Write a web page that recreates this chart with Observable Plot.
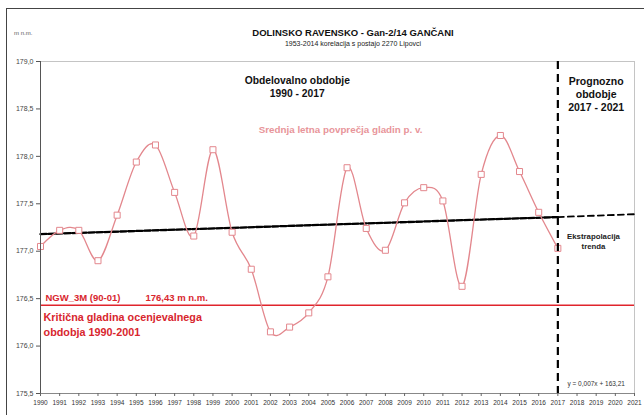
<!DOCTYPE html>
<html><head><meta charset="utf-8">
<script src="https://cdn.jsdelivr.net/npm/d3@7"></script>
<script src="https://cdn.jsdelivr.net/npm/@observablehq/plot@0.6"></script>
<style>
body{margin:0;background:#fff;font-family:"Liberation Sans",Arial,sans-serif}
#wrap{position:relative;width:644px;height:415px;overflow:hidden;background:#fff}
#frame{position:absolute;left:6px;top:8px;width:660px;height:430px;border:1px solid #444;box-sizing:border-box}
#title{position:absolute;left:0;width:706px;top:27px;text-align:center;font-weight:bold;font-size:9.5px;color:#111}
#subtitle{position:absolute;left:0;width:706px;top:40px;text-align:center;font-size:7px;color:#222}
#unit{position:absolute;left:14px;top:30px;font-size:6px;color:#555}
#chart{position:absolute;left:0;top:0}
</style></head>
<body>
<div id="wrap">
<div id="frame"></div>
<div id="title">DOLINSKO RAVENSKO - Gan-2/14 GANČANI</div>
<div id="subtitle">1953-2014 korelacija s postajo 2270 Lipovci</div>
<div id="unit">m n.m.</div>
<div id="chart"></div>
</div>
<script>
const years = [1990,1991,1992,1993,1994,1995,1996,1997,1998,1999,2000,2001,2002,2003,2004,2005,2006,2007,2008,2009,2010,2011,2012,2013,2014,2015,2016,2017];
const levels = [177.05,177.22,177.22,176.90,177.38,177.94,178.12,177.62,177.16,178.07,177.20,176.81,176.15,176.20,176.35,176.73,177.88,177.24,177.01,177.51,177.67,177.53,176.63,177.81,178.22,177.84,177.41,177.03];
const trendYears = [1990, 2017];
const trendValues = [177.18, 177.36];
const extrapYears = [2017, 2021];
const extrapValues = [177.36, 177.39];
const criticalLevel = 176.43;
const forecastStart = 2017;
const yTicks = [175.5,176.0,176.5,177.0,177.5,178.0,178.5,179.0];
const xTicks = [1990,1991,1992,1993,1994,1995,1996,1997,1998,1999,2000,2001,2002,2003,2004,2005,2006,2007,2008,2009,2010,2011,2012,2013,2014,2015,2016,2017,2018,2019,2020,2021];

const series = years.map((y,i)=>({year:y, level:levels[i]}));
const trend = trendYears.map((y,i)=>({year:y, v:trendValues[i]}));
const extrap = extrapYears.map((y,i)=>({year:y, v:extrapValues[i]}));

const pink = "#e3878d";
const red = "#e0242c";
const fmt = d => d.toFixed(1).replace(".", ",");

const chart = Plot.plot({
  width: 644, height: 415,
  marginLeft: 40, marginRight: 10, marginTop: 61, marginBottom: 22,
  style: {fontFamily: "Liberation Sans, Arial, sans-serif", background: "transparent", overflow: "visible"},
  x: {domain: [1990, 2021]},
  y: {domain: [175.5, 179]},
  marks: [
    Plot.frame({stroke: "#c4c4c4"}),
    Plot.ruleY([criticalLevel], {stroke: red, strokeWidth: 1.6}),
    Plot.line(trend, {x: "year", y: "v", stroke: "#000", strokeWidth: 1.2}),
    Plot.line(trend, {x: "year", y: "v", stroke: "#000", strokeWidth: 2.3, strokeDasharray: "6,2"}),
    Plot.line(extrap, {x: "year", y: "v", stroke: "#000", strokeWidth: 1.8, strokeDasharray: "6,4"}),
    Plot.line(series, {x: "year", y: "level", stroke: pink, strokeWidth: 1.3, curve: "cardinal"}),
    Plot.dot(series, {x: "year", y: "level", symbol: "square", r: 3.4, fill: "#fff", stroke: pink, strokeWidth: 1}),
    Plot.ruleX([forecastStart], {stroke: "#000", strokeWidth: 2.2, strokeDasharray: "8,5"}),
    Plot.ruleX([1990], {stroke: "#555", strokeWidth: 1}),
    Plot.ruleY([175.5], {stroke: "#888", strokeWidth: 1}),
    Plot.axisY({ticks: yTicks, tickFormat: fmt, tickSize: 4, tickPadding: 3, fontSize: 7, fill: "#444", stroke: "#555", label: null}),
    Plot.axisX({ticks: xTicks, tickFormat: d => String(d), tickSize: 3, tickPadding: 4, fontSize: 6.5, fill: "#333", stroke: "#666", label: null}),
    Plot.text(["Obdelovalno obdobje\n1990 - 2017"], {x: 2003.4, y: 178.74, fontSize: 10.3, fontWeight: "bold", fill: "#111", lineHeight: 1.25}),
    Plot.text(["Prognozno\nobdobje\n2017 - 2021"], {x: 2019.0, y: 178.66, fontSize: 10.5, fontWeight: "bold", fill: "#111", lineHeight: 1.28}),
    Plot.text(["Srednja letna povprečja gladin p. v."], {x: 2005.66, y: 178.28, fontSize: 9.8, fontWeight: "bold", fill: "#e8959a"}),
    Plot.text(["Ekstrapolacija\ntrenda"], {x: 2018.86, y: 177.11, fontSize: 7.8, fontWeight: "bold", fill: "#222", lineHeight: 1.35}),
    Plot.text(["NGW_3M (90-01)"], {x: 1990.26, y: 176.51, textAnchor: "start", fontSize: 9.5, fontWeight: "bold", fill: "#d8262e"}),
    Plot.text(["176,43 m n.m."], {x: 1995.48, y: 176.51, textAnchor: "start", fontSize: 9.5, fontWeight: "bold", fill: "#d8262e"}),
    Plot.text(["Kritična gladina ocenjevalnega"], {x: 1990.16, y: 176.30, textAnchor: "start", fontSize: 10.8, fontWeight: "bold", fill: "#d8262e"}),
    Plot.text(["obdobja 1990-2001"], {x: 1990.16, y: 176.14, textAnchor: "start", fontSize: 10.8, fontWeight: "bold", fill: "#d8262e"}),
    Plot.text(["y = 0,007x + 163,21"], {x: 2019.0, y: 175.6, fontSize: 6.5, fill: "#333"})
  ]
});
document.getElementById("chart").appendChild(chart);
</script>
</body></html>
